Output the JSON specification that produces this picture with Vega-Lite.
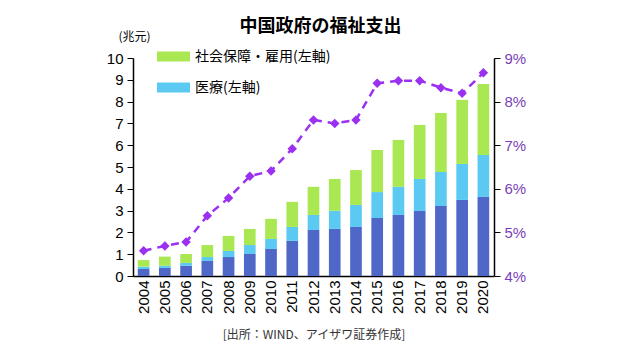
{
  "$schema": "https://vega.github.io/schema/vega-lite/v6.json",
  "width": 361,
  "height": 218,
  "autosize": {"type": "none"},
  "padding": {"left": 133, "top": 58, "right": 146, "bottom": 82},
  "background": "white",
  "config": {
    "view": {"stroke": null},
    "font": "Liberation Sans",
    "axis": {"grid": false, "domainColor": "black", "tickColor": "black", "labelColor": "black"}
  },
  "title": {
    "text": "中国政府の福祉支出",
    "font": "Noto Sans CJK JP",
    "fontSize": 18,
    "fontWeight": "bold",
    "color": "black",
    "anchor": "middle",
    "dx": 7,
    "offset": -6
  },
  "datasets": {
    "bars": [
      {"year": "2004", "cat": "年金", "v": 0.32, "o": 1},
      {"year": "2004", "cat": "医療(左軸)", "v": 0.11, "o": 2},
      {"year": "2004", "cat": "社会保障・雇用(左軸)", "v": 0.30, "o": 3},
      {"year": "2005", "cat": "年金", "v": 0.37, "o": 1},
      {"year": "2005", "cat": "医療(左軸)", "v": 0.10, "o": 2},
      {"year": "2005", "cat": "社会保障・雇用(左軸)", "v": 0.42, "o": 3},
      {"year": "2006", "cat": "年金", "v": 0.47, "o": 1},
      {"year": "2006", "cat": "医療(左軸)", "v": 0.13, "o": 2},
      {"year": "2006", "cat": "社会保障・雇用(左軸)", "v": 0.41, "o": 3},
      {"year": "2007", "cat": "年金", "v": 0.69, "o": 1},
      {"year": "2007", "cat": "医療(左軸)", "v": 0.18, "o": 2},
      {"year": "2007", "cat": "社会保障・雇用(左軸)", "v": 0.55, "o": 3},
      {"year": "2008", "cat": "年金", "v": 0.87, "o": 1},
      {"year": "2008", "cat": "医療(左軸)", "v": 0.28, "o": 2},
      {"year": "2008", "cat": "社会保障・雇用(左軸)", "v": 0.69, "o": 3},
      {"year": "2009", "cat": "年金", "v": 1.01, "o": 1},
      {"year": "2009", "cat": "医療(左軸)", "v": 0.41, "o": 2},
      {"year": "2009", "cat": "社会保障・雇用(左軸)", "v": 0.74, "o": 3},
      {"year": "2010", "cat": "年金", "v": 1.24, "o": 1},
      {"year": "2010", "cat": "医療(左軸)", "v": 0.46, "o": 2},
      {"year": "2010", "cat": "社会保障・雇用(左軸)", "v": 0.92, "o": 3},
      {"year": "2011", "cat": "年金", "v": 1.61, "o": 1},
      {"year": "2011", "cat": "医療(左軸)", "v": 0.64, "o": 2},
      {"year": "2011", "cat": "社会保障・雇用(左軸)", "v": 1.15, "o": 3},
      {"year": "2012", "cat": "年金", "v": 2.11, "o": 1},
      {"year": "2012", "cat": "医療(左軸)", "v": 0.69, "o": 2},
      {"year": "2012", "cat": "社会保障・雇用(左軸)", "v": 1.29, "o": 3},
      {"year": "2013", "cat": "年金", "v": 2.16, "o": 1},
      {"year": "2013", "cat": "医療(左軸)", "v": 0.83, "o": 2},
      {"year": "2013", "cat": "社会保障・雇用(左軸)", "v": 1.46, "o": 3},
      {"year": "2014", "cat": "年金", "v": 2.25, "o": 1},
      {"year": "2014", "cat": "医療(左軸)", "v": 1.01, "o": 2},
      {"year": "2014", "cat": "社会保障・雇用(左軸)", "v": 1.60, "o": 3},
      {"year": "2015", "cat": "年金", "v": 2.66, "o": 1},
      {"year": "2015", "cat": "医療(左軸)", "v": 1.19, "o": 2},
      {"year": "2015", "cat": "社会保障・雇用(左軸)", "v": 1.93, "o": 3},
      {"year": "2016", "cat": "年金", "v": 2.80, "o": 1},
      {"year": "2016", "cat": "医療(左軸)", "v": 1.29, "o": 2},
      {"year": "2016", "cat": "社会保障・雇用(左軸)", "v": 2.15, "o": 3},
      {"year": "2017", "cat": "年金", "v": 2.98, "o": 1},
      {"year": "2017", "cat": "医療(左軸)", "v": 1.47, "o": 2},
      {"year": "2017", "cat": "社会保障・雇用(左軸)", "v": 2.48, "o": 3},
      {"year": "2018", "cat": "年金", "v": 3.21, "o": 1},
      {"year": "2018", "cat": "医療(左軸)", "v": 1.56, "o": 2},
      {"year": "2018", "cat": "社会保障・雇用(左軸)", "v": 2.71, "o": 3},
      {"year": "2019", "cat": "年金", "v": 3.49, "o": 1},
      {"year": "2019", "cat": "医療(左軸)", "v": 1.65, "o": 2},
      {"year": "2019", "cat": "社会保障・雇用(左軸)", "v": 2.94, "o": 3},
      {"year": "2020", "cat": "年金", "v": 3.63, "o": 1},
      {"year": "2020", "cat": "医療(左軸)", "v": 1.92, "o": 2},
      {"year": "2020", "cat": "社会保障・雇用(左軸)", "v": 3.26, "o": 3}
    ],
    "ratio": [
      {"year": "2004", "r": 4.58},
      {"year": "2005", "r": 4.69},
      {"year": "2006", "r": 4.78},
      {"year": "2007", "r": 5.38},
      {"year": "2008", "r": 5.79},
      {"year": "2009", "r": 6.29},
      {"year": "2010", "r": 6.41},
      {"year": "2011", "r": 6.92},
      {"year": "2012", "r": 7.58},
      {"year": "2013", "r": 7.50},
      {"year": "2014", "r": 7.58},
      {"year": "2015", "r": 8.42},
      {"year": "2016", "r": 8.48},
      {"year": "2017", "r": 8.48},
      {"year": "2018", "r": 8.32},
      {"year": "2019", "r": 8.19},
      {"year": "2020", "r": 8.66}
    ]
  },
  "encoding": {
    "x": {
      "field": "year",
      "type": "ordinal",
      "scale": {"paddingInner": 0.45, "paddingOuter": 0.225},
      "axis": {
        "title": "[出所：WIND、アイザワ証券作成]",
        "titleFont": "Noto Sans CJK JP",
        "titleFontSize": 12,
        "titleFontWeight": "normal",
        "titleColor": "#333333",
        "titlePadding": 16,
        "labelAngle": -90,
        "labelFontSize": 15,
        "labelPadding": 4,
        "ticks": false,
        "domainWidth": 1.5
      }
    }
  },
  "resolve": {"scale": {"y": "independent"}},
  "layer": [
    {
      "data": {"name": "bars"},
      "mark": {"type": "bar"},
      "encoding": {
        "y": {
          "field": "v",
          "type": "quantitative",
          "aggregate": "sum",
          "stack": "zero",
          "scale": {"domain": [0, 10], "nice": false},
          "axis": {
            "orient": "left",
            "values": [0,1,2,3,4,5,6,7,8,9,10],
            "labelFontSize": 15,
            "labelPadding": 4,
            "tickSize": 6,
            "domainWidth": 1.5,
            "title": "(兆元)",
            "titleFont": "Noto Sans CJK JP",
            "titleFontSize": 12,
            "titleFontWeight": "normal",
            "titleAngle": 0,
            "titleAlign": "left",
            "titleBaseline": "middle",
            "titleX": -15,
            "titleY": -22
          }
        },
        "color": {
          "field": "cat",
          "type": "nominal",
          "scale": {
            "domain": ["社会保障・雇用(左軸)", "医療(左軸)", "年金"],
            "range": ["#A9E852", "#5BC9F2", "#4F68C8"]
          },
          "legend": {
            "values": ["社会保障・雇用(左軸)", "医療(左軸)"],
            "orient": "none",
            "legendX": 24,
            "legendY": -18,
            "title": null,
            "padding": 0,
            "symbolType": "M-1,-0.3H1V0.3H-1Z",
            "symbolSize": 1089,
            "symbolStrokeWidth": 0,
            "symbolOpacity": 1,
            "labelFont": "Noto Sans CJK JP",
            "labelFontSize": 14,
            "labelColor": "black",
            "labelOffset": 5,
            "rowPadding": 7
          }
        },
        "order": {"field": "o", "type": "quantitative"}
      }
    },
    {
      "data": {"name": "ratio"},
      "mark": {
        "type": "line",
        "color": "#9B30F0",
        "strokeWidth": 2.5,
        "strokeDash": [8, 6],
        "point": {"shape": "diamond", "size": 90, "filled": true, "color": "#9B30F0", "opacity": 1}
      },
      "encoding": {
        "y": {
          "field": "r",
          "type": "quantitative",
          "scale": {"domain": [4, 9], "nice": false, "zero": false},
          "axis": {
            "orient": "right",
            "values": [4,5,6,7,8,9],
            "labelExpr": "datum.value + '%'",
            "labelFontSize": 15,
            "labelColor": "#7A3FB8",
            "labelPadding": 4,
            "tickSize": 6,
            "domainWidth": 1.5,
            "title": null
          }
        }
      }
    }
  ]
}
